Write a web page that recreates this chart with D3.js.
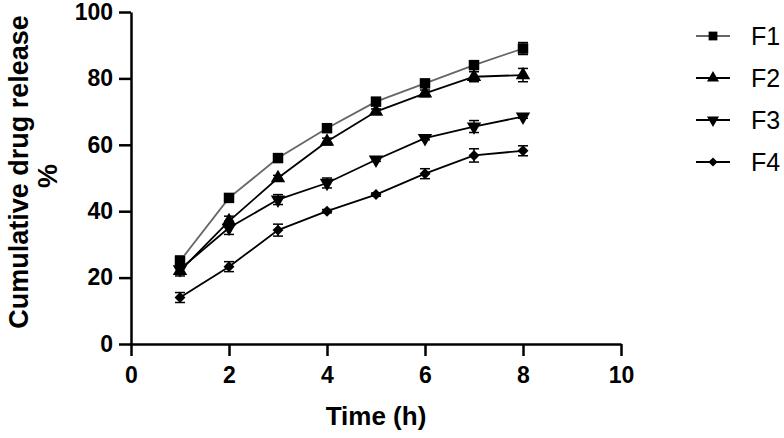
<!DOCTYPE html>
<html>
<head>
<meta charset="utf-8">
<script src="https://cdn.jsdelivr.net/npm/d3@7"></script>
<style>
  body { margin: 0; background: #fff; }
  text { font-family: "Liberation Sans", Arial, sans-serif; }
</style>
</head>
<body>
<div id="chart"></div>
<script>
var width = 784;
var height = 438;

// time points (h)
var times = [1, 2, 3, 4, 5, 6, 7, 8];
var seriesNames = ["F1", "F2", "F3", "F4"];

// cumulative release (%) per formulation
var f1 = [25, 44, 56, 65, 73, 78.5, 84, 89];
var f2 = [22, 37, 50, 61, 70, 75.5, 80.5, 81];
var f3 = [22.5, 35, 43.5, 48.5, 55.5, 62, 65.5, 68.5];
var f4 = [14, 23.3, 34.3, 40, 45, 51.3, 56.8, 58.2];

// error bars (+/-)
var f1Err = [1.5, 0.6, 0.8, 1, 0.8, 0.8, 1, 1.8];
var f2Err = [1.5, 1.5, 0.8, 1, 0.8, 1, 1.5, 2];
var f3Err = [1, 2, 1.5, 1.5, 0.5, 0.5, 1.8, 0.5];
var f4Err = [1.5, 1.5, 1.8, 0.5, 0.5, 1.5, 2, 1.5];

var xTicks = [0, 2, 4, 6, 8, 10];
var yTicks = [0, 20, 40, 60, 80, 100];

var seriesValues = [f1, f2, f3, f4];
var seriesErr = [f1Err, f2Err, f3Err, f4Err];
var symbols = [d3.symbolSquare, d3.symbolTriangle, d3.symbolTriangle, d3.symbolSquare];
var symbolSize = [110, 90, 90, 60];
var symbolRotate = [0, 0, 180, 45];
var lineColors = ["#666", "#000", "#000", "#000"];

var svg = d3.select("#chart")
  .append("svg")
  .attr("width", width)
  .attr("height", height);

var x = d3.scaleLinear().domain([0, 10]).range([131, 621]);
var y = d3.scaleLinear().domain([0, 100]).range([344, 12]);

// axes
var xAxis = svg.append("g")
  .attr("transform", "translate(0," + y(0) + ")")
  .call(d3.axisBottom(x).tickValues(xTicks).tickSize(12).tickPadding(11).tickSizeOuter(0));
var yAxis = svg.append("g")
  .attr("transform", "translate(" + x(0) + ",0)")
  .call(d3.axisLeft(y).tickValues(yTicks).tickSize(12).tickPadding(6).tickSizeOuter(0));

[xAxis, yAxis].forEach(function (a) {
  a.select(".domain").attr("stroke", "#000").attr("stroke-width", 2.5);
  a.selectAll(".tick line").attr("stroke", "#000").attr("stroke-width", 2.5);
  a.selectAll(".tick text")
    .attr("fill", "#000")
    .style("font-size", "23px")
    .style("font-weight", "bold");
});

// axis titles
svg.append("text")
  .attr("x", 376)
  .attr("y", 425)
  .attr("text-anchor", "middle")
  .style("font-size", "26px")
  .style("font-weight", "bold")
  .text("Time (h)");

svg.append("text")
  .attr("transform", "translate(28,172) rotate(-90)")
  .attr("text-anchor", "middle")
  .style("font-size", "27px")
  .style("font-weight", "bold")
  .text("Cumulative drug release");

svg.append("text")
  .attr("transform", "translate(57,176) rotate(-90)")
  .attr("text-anchor", "middle")
  .style("font-size", "27px")
  .style("font-weight", "bold")
  .text("%");

var line = d3.line()
  .x(function (d, i) { return x(times[i]); })
  .y(function (d) { return y(d); });

// error bars first
seriesValues.forEach(function (vals, s) {
  var g = svg.append("g").attr("stroke", "#000").attr("stroke-width", 1.5);
  vals.forEach(function (v, i) {
    var e = seriesErr[s][i];
    var cx = x(times[i]);
    g.append("line").attr("x1", cx).attr("x2", cx).attr("y1", y(v - e)).attr("y2", y(v + e));
    g.append("line").attr("x1", cx - 5).attr("x2", cx + 5).attr("y1", y(v - e)).attr("y2", y(v - e));
    g.append("line").attr("x1", cx - 5).attr("x2", cx + 5).attr("y1", y(v + e)).attr("y2", y(v + e));
  });
});

// lines
seriesValues.forEach(function (vals, s) {
  svg.append("path")
    .datum(vals)
    .attr("fill", "none")
    .attr("stroke", lineColors[s])
    .attr("stroke-width", 1.8)
    .attr("d", line);
});

// markers
seriesValues.forEach(function (vals, s) {
  svg.selectAll(".m" + s)
    .data(vals)
    .join("path")
    .attr("class", "m" + s)
    .attr("d", d3.symbol().type(symbols[s]).size(symbolSize[s]))
    .attr("transform", function (d, i) {
      return "translate(" + x(times[i]) + "," + y(d) + ") rotate(" + symbolRotate[s] + ")";
    })
    .attr("fill", "#000");
});

// legend
var legend = svg.selectAll(".legend")
  .data(seriesNames)
  .join("g")
  .attr("class", "legend")
  .attr("transform", function (d, i) { return "translate(0," + (36 + i * 42) + ")"; });

legend.append("line")
  .attr("x1", 696).attr("x2", 730)
  .attr("y1", 0).attr("y2", 0)
  .attr("stroke", function (d, i) { return lineColors[i]; })
  .attr("stroke-width", 1.8);

legend.append("path")
  .attr("d", function (d, i) { return d3.symbol().type(symbols[i]).size(symbolSize[i] * 0.7)(); })
  .attr("transform", function (d, i) { return "translate(713,0) rotate(" + symbolRotate[i] + ")"; })
  .attr("fill", "#000");

legend.append("text")
  .attr("x", 751)
  .attr("y", 9)
  .style("font-size", "25px")
  .attr("fill", "#000")
  .text(function (d) { return d; });
</script>
</body>
</html>
